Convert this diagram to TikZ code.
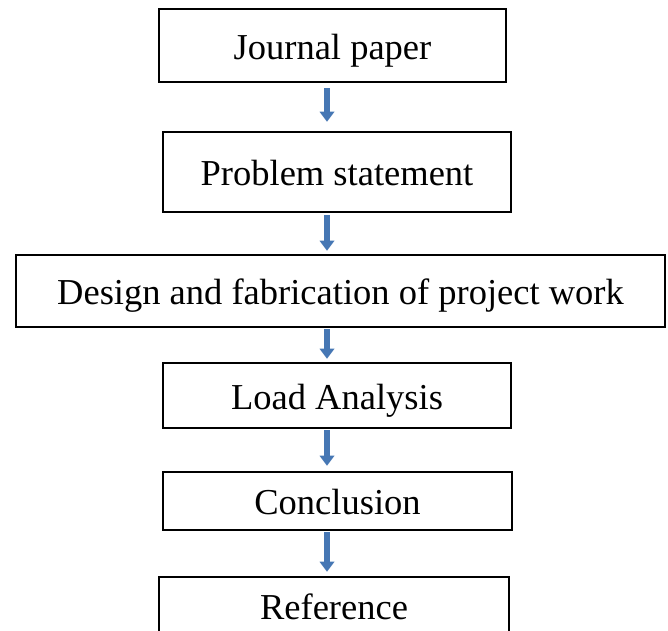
\documentclass[tikz,border=0pt]{standalone}
\usepackage{fontspec}
\setmainfont{Liberation Serif}
\usetikzlibrary{arrows.meta,calc}
\definecolor{arrowblue}{HTML}{4677B4}
\begin{document}
\begin{tikzpicture}[x=1pt,y=-1pt,
  stepbox/.style={draw=black, line width=2.6pt, fill=white, inner sep=0pt,
    text height=27pt, text depth=0pt,
    font=\fontsize{36.5}{40}\selectfont, text=black},
  flowarrow/.style={draw=arrowblue, line width=6.5pt,
    -{Triangle[width=15pt,length=10pt,line width=0pt]}}]
\useasboundingbox[fill=white] (0,0) rectangle (668,630);
\node[stepbox, minimum width=347pt, minimum height=73pt] (j) at (332.5,45.5) {Journal paper};
\node[stepbox, minimum width=348pt, minimum height=80pt] (p) at (337,172) {Problem statement};
\node[stepbox, minimum width=649pt, minimum height=72pt] (d) at (340.5,291) {Design and fabrication of project work};
\node[stepbox, minimum width=348pt, minimum height=65pt] (l) at (337,395.5) {Load Analysis};
\node[stepbox, minimum width=349pt, minimum height=58pt] (c) at (337.5,501) {Conclusion};
\node[stepbox, minimum width=350pt, minimum height=58pt] (r) at (334,606) {Reference};
\coordinate (ax) at (327,0);
\draw[flowarrow] ($(j.south -| ax)+(0,5)$) -- ($(p.north -| ax)+(0,-9)$);
\draw[flowarrow] ($(p.south -| ax)+(0,2)$) -- ($(d.north -| ax)+(0,-3)$);
\draw[flowarrow] ($(d.south -| ax)+(0,1)$) -- ($(l.north -| ax)+(0,-3)$);
\draw[flowarrow] ($(l.south -| ax)+(0,1)$) -- ($(c.north -| ax)+(0,-5)$);
\draw[flowarrow] ($(c.south -| ax)+(0,1)$) -- ($(r.north -| ax)+(0,-4)$);
\end{tikzpicture}
\end{document}
